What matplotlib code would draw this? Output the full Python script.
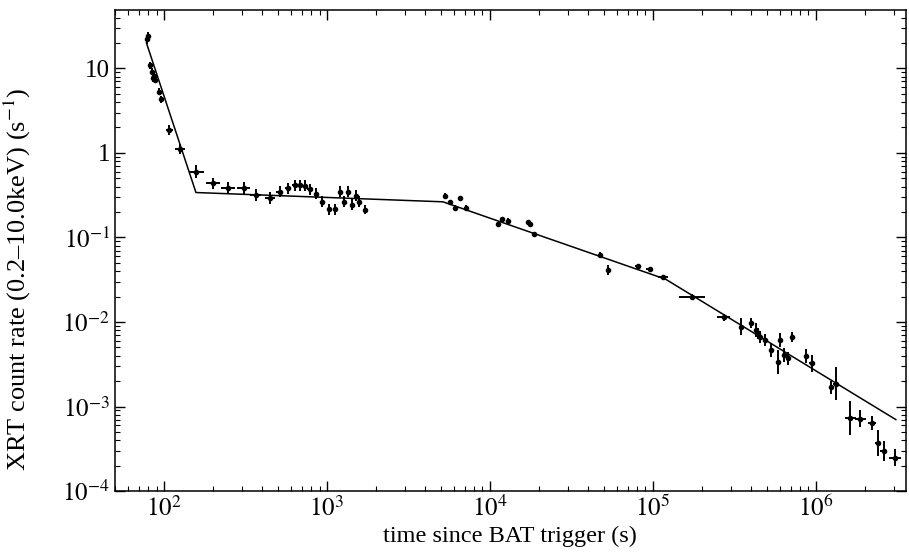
"""
XRT light curve with broken power-law fit
"""

import numpy as np
import matplotlib
matplotlib.use('Agg')
import matplotlib.pyplot as plt
from matplotlib.ticker import LogLocator, FuncFormatter, NullFormatter


# Data: time (s), rate (s^-1), half-widths of the bars in dex
time = [79, 79.5, 81.6, 84.4, 85.6, 86.8, 88.6, 93.2, 96.4, 108, 125, 158,
        200, 247, 308, 365, 445, 513, 577, 634, 680, 730, 783, 861, 931,
        1023, 1114, 1197, 1270, 1345, 1431, 1500, 1572, 1704,
        5270, 5660, 6070, 6520, 7160, 11200, 11900, 12900, 17100, 17500, 18600,
        47500, 53400, 81000, 95500, 116000, 174000, 272000,
        350000, 402000, 431000, 441000, 456000, 485000, 532000, 585000,
        605000, 634000, 674000, 716000, 873000, 946000,
        1.24e6, 1.33e6, 1.63e6, 1.88e6, 2.22e6, 2.40e6, 2.61e6, 3.07e6]
rate = [22, 24, 10.9, 9.1, 7.6, 8.1, 7.3, 5.3, 4.3, 1.86, 1.11, 0.60,
        0.435, 0.386, 0.386, 0.317, 0.294, 0.347, 0.38, 0.416, 0.416, 0.41, 0.37, 0.33, 0.264,
        0.216, 0.216, 0.347, 0.264, 0.347, 0.245, 0.31, 0.264, 0.214,
        0.31, 0.26, 0.226, 0.29, 0.226, 0.144, 0.165, 0.157, 0.151, 0.144, 0.109,
        0.0618, 0.041, 0.0457, 0.0422, 0.0336, 0.0198, 0.0113,
        0.00875, 0.0098, 0.0080, 0.0073, 0.00667, 0.00608, 0.00463, 0.00337,
        0.00608, 0.00404, 0.0037, 0.00667, 0.00394, 0.00323,
        0.00168, 0.00187, 7.3e-4, 7.2e-4, 6.4e-4, 3.7e-4, 2.96e-4, 2.49e-4]
dt_dex = [0.01, 0.01, 0.01, 0.01, 0.01, 0.01, 0.01, 0.012, 0.012, 0.022, 0.03, 0.045,
          0.045, 0.045, 0.04, 0.035, 0.03, 0.02, 0.02, 0.016, 0.016, 0.016, 0.015, 0.015, 0.012,
          0.012, 0.012, 0.01, 0.01, 0.01, 0.01, 0.01, 0.01, 0.012,
          0.01, 0.01, 0.01, 0.01, 0.012, 0.01, 0.01, 0.012, 0.01, 0.01, 0.01,
          0.01, 0.01, 0.015, 0.02, 0.03, 0.08, 0.04,
          0.01, 0.012, 0.01, 0.01, 0.01, 0.01, 0.01, 0.01,
          0.01, 0.01, 0.01, 0.01, 0.015, 0.015,
          0.015, 0.02, 0.035, 0.035, 0.025, 0.015, 0.02, 0.035]
dr_dex = [0.05, 0.05, 0.04, 0.04, 0.04, 0.04, 0.04, 0.04, 0.04, 0.06, 0.06, 0.08,
          0.07, 0.07, 0.07, 0.07, 0.07, 0.065, 0.065, 0.065, 0.065, 0.065, 0.065, 0.065, 0.065,
          0.065, 0.065, 0.065, 0.065, 0.065, 0.065, 0.065, 0.065, 0.055,
          0.03, 0.03, 0.03, 0.03, 0.03, 0.03, 0.03, 0.03, 0.03, 0.03, 0.03,
          0.04, 0.06, 0.03, 0.03, 0.03, 0.03, 0.04,
          0.1, 0.06, 0.08, 0.07, 0.07, 0.07, 0.08, 0.14,
          0.08, 0.08, 0.08, 0.06, 0.08, 0.1,
          0.08, 0.2, 0.2, 0.1, 0.08, 0.15, 0.12, 0.1]

# broken power-law fit, vertices
fit_t = [78, 157, 5150, 1.2e5, 3.1e6]
fit_rate = [20, 0.34, 0.264, 0.032, 7.0e-4]


plt.rcParams['font.family'] = ['Liberation Serif', 'DejaVu Serif']
plt.rcParams['mathtext.fontset'] = 'stix'

t = np.array(time)
r = np.array(rate)
dt = np.array(dt_dex)
dr = np.array(dr_dex)
xerr = [t - t / 10**dt, t * 10**dt - t]
yerr = [r - r / 10**dr, r * 10**dr - r]

fig = plt.figure(figsize=(9.09, 5.59), dpi=100)
ax = fig.add_axes([0.1265, 0.1216, 0.870, 0.8604])

ax.errorbar(t, r, xerr=xerr, yerr=yerr, fmt='o', color='black', ms=3,
            elinewidth=1.4, capsize=0)
ax.plot(fit_t, fit_rate, color='black', lw=1.1)

ax.set_xscale('log')
ax.set_yscale('log')
ax.set_xlim(50, 3.57e6)
ax.set_ylim(1e-4, 49)


def ylab(v, pos):
    if v == 10:
        return '10'
    if v == 1:
        return '1'
    return r'$10^{%d}$' % round(np.log10(v))


def xlab(v, pos):
    return r'$10^{%d}$' % round(np.log10(v))


ax.xaxis.set_major_locator(LogLocator(base=10))
ax.xaxis.set_minor_locator(LogLocator(base=10, subs=np.arange(2, 10)))
ax.xaxis.set_major_formatter(FuncFormatter(xlab))
ax.xaxis.set_minor_formatter(NullFormatter())
ax.yaxis.set_major_locator(LogLocator(base=10))
ax.yaxis.set_minor_locator(LogLocator(base=10, subs=np.arange(2, 10)))
ax.yaxis.set_major_formatter(FuncFormatter(ylab))
ax.yaxis.set_minor_formatter(NullFormatter())

ax.tick_params(which='both', direction='in', top=True, right=True,
               labelsize=18, colors='black')
ax.tick_params(which='major', length=7, width=1)
ax.tick_params(which='minor', length=3.5, width=0.8)
for s in ax.spines.values():
    s.set_linewidth(1.1)

ax.set_xlabel('time since BAT trigger (s)', fontsize=17.5, labelpad=3)
ax.set_ylabel(r'XRT count rate (0.2–10.0keV) (s$^{-1}$)', fontsize=19)
ax.yaxis.set_label_coords(-0.104, 0.44)

plt.savefig('out.png', dpi=100)
